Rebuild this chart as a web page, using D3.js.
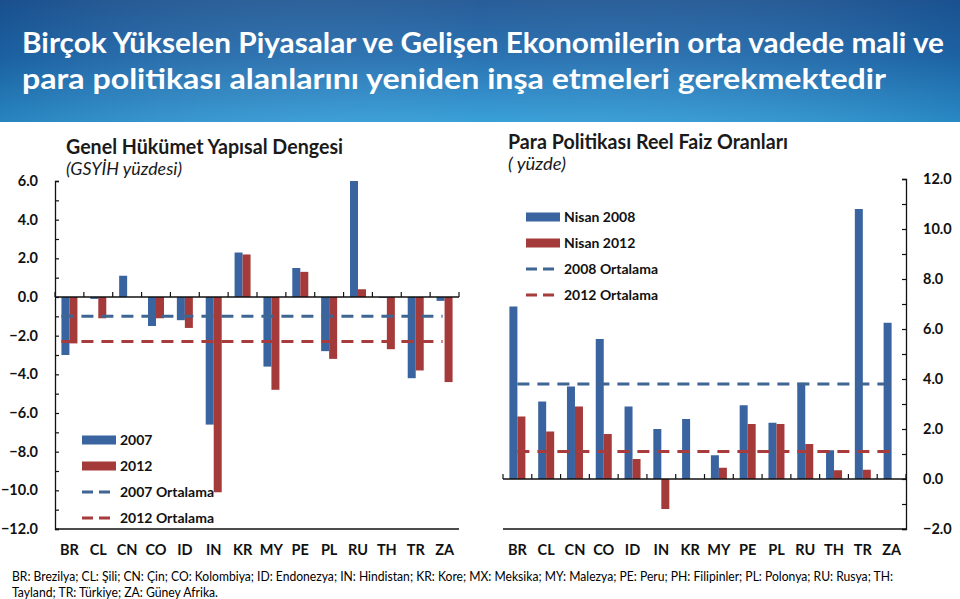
<!DOCTYPE html>
<html><head><meta charset="utf-8">
<script src="https://cdn.jsdelivr.net/npm/d3@7/dist/d3.min.js"></script>
<style>
html,body{margin:0;padding:0;background:#fff;}
svg{display:block;font-family:Lato,"Noto Sans",sans-serif;}
</style></head><body>
<svg id="chart" width="960" height="599"></svg>
<script>
// ---------- DATA ----------
const categories = ["BR","CL","CN","CO","ID","IN","KR","MY","PE","PL","RU","TH","TR","ZA"];
// Left: Genel Hükümet Yapısal Dengesi (GSYİH yüzdesi)
const fiscal2007 = [-3.0,-0.1,1.1,-1.5,-1.2,-6.6,2.3,-3.6,1.5,-2.8,6.0,-0.05,-4.2,-0.2];
const fiscal2012 = [-2.4,-1.1,0.0,-1.1,-1.6,-10.1,2.2,-4.8,1.3,-3.2,0.4,-2.7,-3.8,-4.4];
const fiscalAvg2007 = -1.0;
const fiscalAvg2012 = -2.3;
const fiscalTicks = [6,4,2,0,-2,-4,-6,-8,-10,-12];
// Right: Para Politikası Reel Faiz Oranları (yüzde)
const rate2008 = [6.9,3.1,3.7,5.6,2.9,2.0,2.4,0.95,2.95,2.25,3.85,1.15,10.8,6.25];
const rate2012 = [2.5,1.9,2.9,1.8,0.8,-1.2,0.0,0.45,2.2,2.2,1.4,0.35,0.37,0.0];
const rateAvg2008 = 3.8;
const rateAvg2012 = 1.1;
const rateTicks = [12,10,8,6,4,2,0,-2];
const legendLeft = ["2007","2012","2007 Ortalama","2012 Ortalama"];
const legendRight = ["Nisan 2008","Nisan 2012","2008 Ortalama","2012 Ortalama"];
const headerLines = ["Birçok Yükselen Piyasalar ve Gelişen Ekonomilerin orta vadede mali ve",
                     "para politikası alanlarını yeniden inşa etmeleri gerekmektedir"];
const footerLines = ["BR: Brezilya; CL: Şili; CN: Çin; CO: Kolombiya; ID: Endonezya; IN: Hindistan; KR: Kore; MX: Meksika; MY: Malezya; PE: Peru; PH: Filipinler; PL: Polonya; RU: Rusya; TH:",
                     "Tayland; TR: Türkiye; ZA: Güney Afrika."];

// ---------- STYLE ----------
const BLUE = "#3a64a0", RED = "#a53a3a";
const BLUE_DASH = "#3f6593", RED_DASH = "#a83c3c";
const INK = "#111";
const svg = d3.select("#chart");

// header
const defs = svg.append("defs");
const g = defs.append("linearGradient").attr("id","hdr").attr("x1",0).attr("y1",0).attr("x2",0).attr("y2",1);
g.append("stop").attr("offset","0%").attr("stop-color","#1d5593");
g.append("stop").attr("offset","45%").attr("stop-color","#1f6aad");
g.append("stop").attr("offset","100%").attr("stop-color","#2f9bd6");
const g2 = defs.append("linearGradient").attr("id","hdr2").attr("x1",0).attr("y1",0).attr("x2",1).attr("y2",0);
g2.append("stop").attr("offset","0%").attr("stop-color","#0e3f7a").attr("stop-opacity",0.25);
g2.append("stop").attr("offset","50%").attr("stop-color","#ffffff").attr("stop-opacity",0.05);
g2.append("stop").attr("offset","100%").attr("stop-color","#0e3f7a").attr("stop-opacity",0.2);
svg.append("rect").attr("x",0).attr("y",0).attr("width",960).attr("height",122).attr("fill","url(#hdr)");
svg.append("rect").attr("x",0).attr("y",0).attr("width",960).attr("height",122).attr("fill","url(#hdr2)");
svg.selectAll("text.hdr").data(headerLines).join("text").attr("class","hdr")
  .attr("x",22).attr("y",(d,i)=>53+i*36)
  .attr("fill","#fff").attr("font-size",28).attr("font-weight","bold")
  .attr("textLength",(d,i)=>[922,864][i]).attr("lengthAdjust","spacingAndGlyphs")
  .text(d=>d);

// footer
svg.selectAll("text.ftr").data(footerLines).join("text").attr("class","ftr")
  .attr("x",12).attr("y",(d,i)=>581+i*16)
  .attr("fill","#000").attr("font-size",12.5)
  .attr("textLength",(d,i)=>[881,206][i]).attr("lengthAdjust","spacingAndGlyphs")
  .text(d=>d);

function panel(opts){
  const {x0,x1,yDomain,yRange,ticks,a,b,avgA,avgB,axisSide,lineStartOffset} = opts;
  const x = d3.scaleBand().domain(categories).range([x0,x1]);
  const y = d3.scaleLinear().domain(yDomain).range(yRange);
  const bw = 8;
  const G = svg.append("g");
  const cx = c => x(c) + x.bandwidth()/2;
  // bars
  G.selectAll("rect.a").data(categories).join("rect")
    .attr("x",c=>cx(c)-bw).attr("width",bw)
    .attr("y",(c,i)=>y(Math.max(0,a[i]))).attr("height",(c,i)=>Math.abs(y(a[i])-y(0)))
    .attr("fill",BLUE);
  G.selectAll("rect.b").data(categories).join("rect")
    .attr("x",c=>cx(c)).attr("width",bw)
    .attr("y",(c,i)=>y(Math.max(0,b[i]))).attr("height",(c,i)=>Math.abs(y(b[i])-y(0)))
    .attr("fill",RED);
  // axes
  const axisX = axisSide==="left" ? x0 : x1;
  const yAxis = (axisSide==="left" ? d3.axisLeft(y) : d3.axisRight(y))
     .tickValues(d3.range(yDomain[0],yDomain[1]+1,1)).tickSize(-4).tickFormat("");
  G.append("g").attr("transform",`translate(${axisX},0)`).call(yAxis)
    .call(s=>s.select(".domain").attr("stroke",INK).attr("stroke-width",1.3))
    .call(s=>s.selectAll(".tick line").attr("stroke",INK).attr("stroke-width",1.2));
  G.selectAll("text.yl").data(ticks).join("text")
    .attr("x",axisSide==="left"? x0-17 : x1+17).attr("y",d=>y(d)+5)
    .attr("text-anchor",axisSide==="left"?"end":"start")
    .attr("font-size",14.5).attr("font-weight","bold").attr("fill",INK)
    .text(d=>d3.format(".1f")(d));
  // zero line with ticks at band boundaries
  const bounds = categories.map(c=>x(c)).concat([x1]);
  G.append("line").attr("x1",x0).attr("x2",x1).attr("y1",y(0)).attr("y2",y(0)).attr("stroke",INK).attr("stroke-width",1.3);
  G.selectAll("line.xt").data(bounds).join("line")
    .attr("x1",d=>d).attr("x2",d=>d).attr("y1",y(0)).attr("y2",y(0)-5).attr("stroke",INK).attr("stroke-width",1.2);
  // bottom frame
  G.append("line").attr("x1",x0).attr("x2",x1).attr("y1",y(yDomain[0])).attr("y2",y(yDomain[0])).attr("stroke",INK).attr("stroke-width",1.3);
  // category labels
  G.selectAll("text.xl").data(categories).join("text")
    .attr("x",c=>cx(c)).attr("y",555).attr("text-anchor","middle")
    .attr("font-size",14.5).attr("font-weight","bold").attr("fill",INK).text(c=>c);
  // average lines
  const lx1 = cx(categories[0]) + lineStartOffset, lx2 = cx(categories[categories.length-1]) - 2;
  [[avgA,BLUE_DASH],[avgB,RED_DASH]].forEach(([v,col])=>{
    G.append("line").attr("x1",lx1).attr("x2",lx2).attr("y1",y(v)).attr("y2",y(v))
      .attr("stroke",col).attr("stroke-width",3).attr("stroke-dasharray","12,8");
  });
  return G;
}

panel({x0:55,x1:459,yDomain:[-12,6],yRange:[529,181],ticks:fiscalTicks,a:fiscal2007,b:fiscal2012,
  avgA:fiscalAvg2007,avgB:fiscalAvg2012,axisSide:"left",lineStartOffset:-8});
panel({x0:503,x1:906,yDomain:[-2,12],yRange:[529,179],ticks:rateTicks,a:rate2008,b:rate2012,
  avgA:rateAvg2008,avgB:rateAvg2012,axisSide:"right",lineStartOffset:0});

// titles
function title(x,y,txt,w,size,italic,bold){
  svg.append("text").attr("x",x).attr("y",y).attr("font-size",size)
    .attr("font-style",italic?"italic":"normal").attr("font-weight",bold?"bold":"normal")
    .attr("fill","#1a1a1a").attr("textLength",w).attr("lengthAdjust","spacingAndGlyphs").text(txt);
}
title(66,154,"Genel Hükümet Yapısal Dengesi",277,20,false,true);
title(66,175,"(GSYİH yüzdesi)",116,17,true,false);
title(508,149,"Para Politikası Reel Faiz Oranları",280,20,false,true);
title(508,170,"( yüzde)",58,17,true,false);

// legends
function legend(x,yc,labels){
  labels.forEach((lab,i)=>{
    const yy = yc + i*26;
    if(i<2){
      svg.append("rect").attr("x",x).attr("y",yy-4.5).attr("width",34).attr("height",9).attr("fill",i===0?BLUE:RED);
    } else {
      svg.append("line").attr("x1",x).attr("x2",x+34).attr("y1",yy).attr("y2",yy)
        .attr("stroke",i===2?BLUE_DASH:RED_DASH).attr("stroke-width",3).attr("stroke-dasharray","11,6");
    }
    svg.append("text").attr("x",x+38).attr("y",yy+5).attr("font-size",14).attr("font-weight","bold")
      .attr("fill",INK).text(lab);
  });
}
legend(82,440,legendLeft);
legend(526,217,legendRight);
</script>
</body></html>
